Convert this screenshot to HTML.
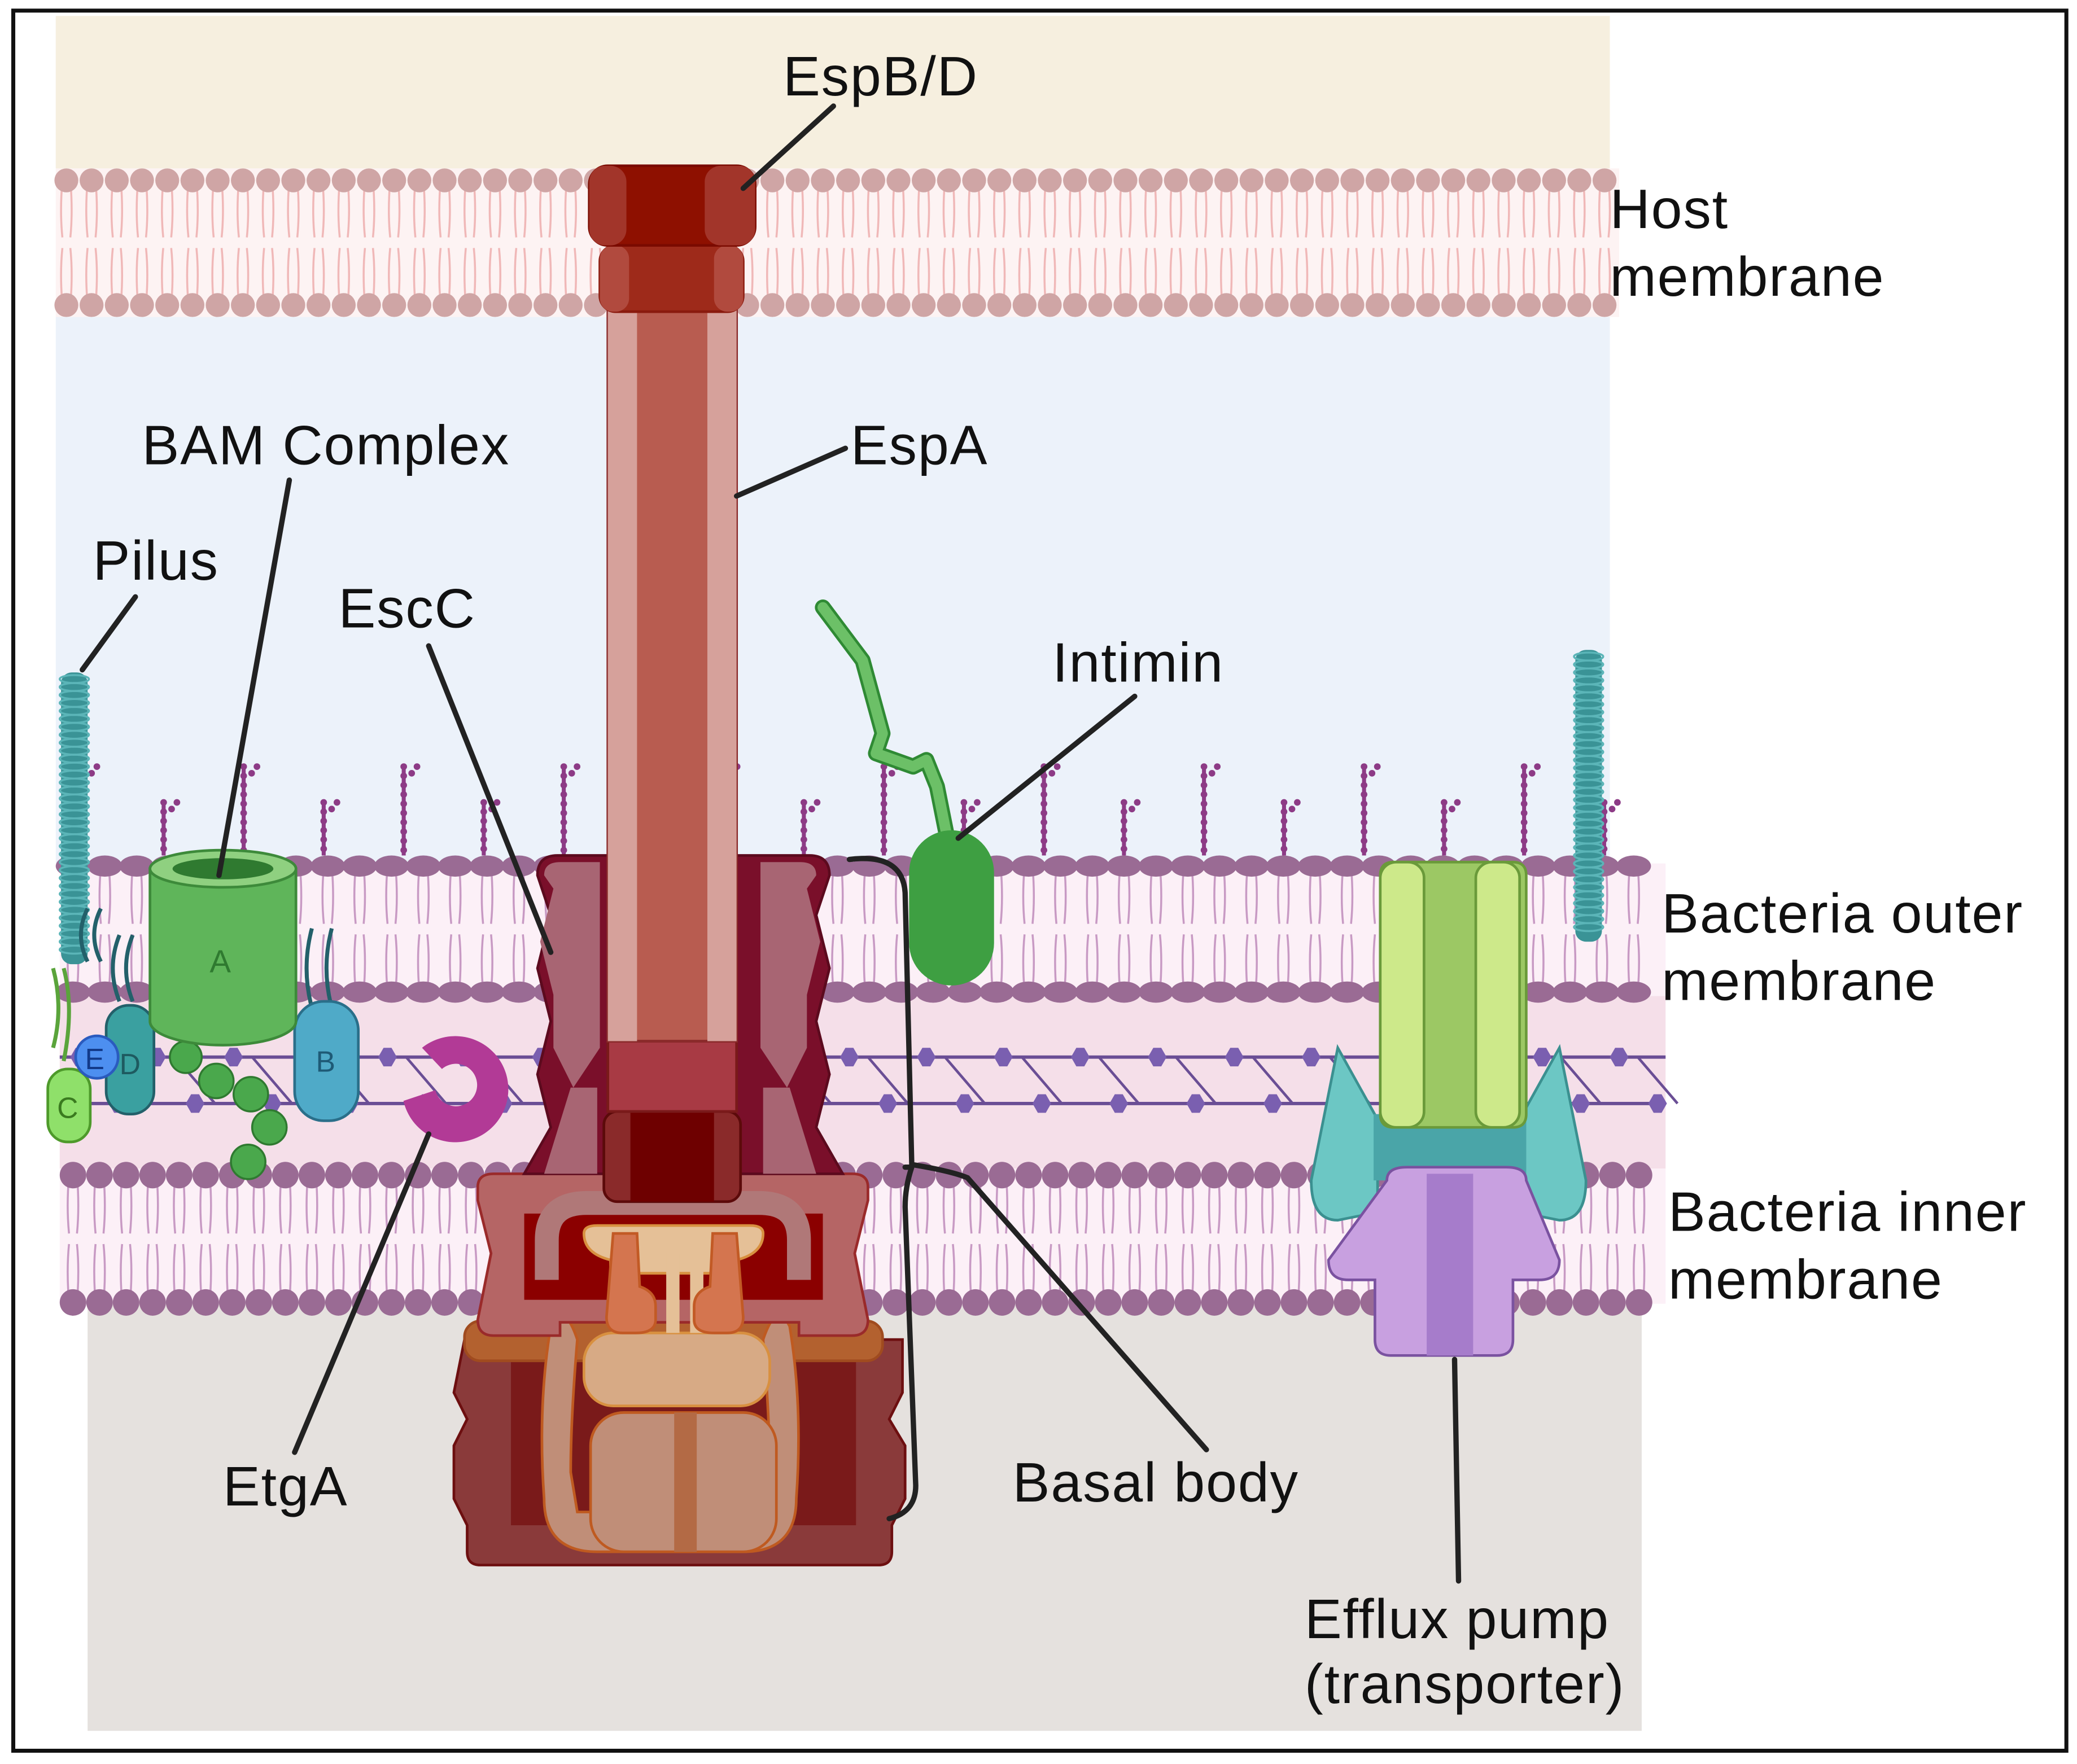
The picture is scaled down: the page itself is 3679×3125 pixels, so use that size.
<!DOCTYPE html>
<html><head><meta charset="utf-8"><style>
html,body{margin:0;padding:0;background:#fff}
svg{display:block}
text{font-family:"Liberation Sans",sans-serif;font-size:42px;letter-spacing:0.8px;fill:#111}
</style></head><body>
<svg id="s" width="3679" height="3125" viewBox="0 0 1565 1330" preserveAspectRatio="none" xmlns="http://www.w3.org/2000/svg">
<rect x="0" y="0" width="1565" height="1330" fill="#fff"/>
<rect x="42" y="12" width="1171" height="115" fill="#f6efdf"/>
<rect x="42" y="127" width="1178" height="112" fill="#fdf3f3"/>
<rect x="42" y="239" width="1171" height="412" fill="#ecf2fa"/>
<rect x="45" y="651" width="1210" height="100" fill="#fcf0f7"/>
<rect x="45" y="751" width="1210" height="130" fill="#f5dfe9"/>
<rect x="45" y="881" width="1210" height="102" fill="#fcf0f7"/>
<rect x="66" y="983" width="1171" height="322" fill="#e5e1de"/>
<g id="lip"></g>
<line x1="45" y1="797" x2="1255" y2="797" stroke="#6a4e95" stroke-width="2.5"/>
<line x1="45" y1="832" x2="1255" y2="832" stroke="#6a4e95" stroke-width="2.5"/>
<g id="pg"></g>
<g id="lps" stroke="#8d3b86" stroke-width="3" fill="#8d3b86"></g>

<rect x="46" y="507" width="20" height="220" rx="8" fill="#3a9396"/>
<g id="pil1"></g>
<rect x="1187" y="490" width="20" height="220" rx="8" fill="#3a9396"/>
<g id="pil2"></g>

<path d="M40 730 q8 30 0 60 M48 730 q8 30 0 70" stroke="#5aa43b" stroke-width="3" fill="none"/>
<path d="M66 725 q-10 -20 0 -40 M76 725 q-10-20 0-40 M90 755 q-10-25 0-50 M100 755 q-10-25 0-50 M235 760 q-8-30 0-60 M250 760 q-8-30 0-60" stroke="#23606a" stroke-width="3" fill="none"/>
<rect x="36" y="806" width="32" height="55" rx="15" fill="#8fe06a" stroke="#4e9a2b" stroke-width="2"/>
<text x="43" y="843" style="font-size:22px;fill:#3a7a1f">C</text>
<rect x="80" y="758" width="36" height="82" rx="17" fill="#3aa0a0" stroke="#23606a" stroke-width="2"/>
<text x="90" y="810" style="font-size:22px;fill:#1e5a60">D</text>
<circle cx="73" cy="797" r="16" fill="#4d8ff0" stroke="#2a5bbf" stroke-width="2"/>
<text x="64" y="806" style="font-size:22px;fill:#123a8a">E</text>
<rect x="222" y="755" width="48" height="90" rx="22" fill="#4faac8" stroke="#2a6f8a" stroke-width="2"/>
<text x="238" y="808" style="font-size:22px;fill:#1e5a76">B</text>
<g fill="#4aa84c" stroke="#2f7a30" stroke-width="1.5">
<circle cx="140" cy="797" r="12"/><circle cx="163" cy="815" r="13"/><circle cx="189" cy="825" r="13"/><circle cx="203" cy="850" r="13"/><circle cx="187" cy="876" r="13"/>
</g>
<path d="M113 655 v115 a55 18 0 0 0 110 0 v-115 z" fill="#5fb55a" stroke="#3d8a3a" stroke-width="2"/>
<ellipse cx="168" cy="655" rx="55" ry="14" fill="#8fd080" stroke="#3d8a3a" stroke-width="2"/>
<ellipse cx="168" cy="655" rx="38" ry="8" fill="#2f7a30"/>
<text x="158" y="733" style="font-size:24px;fill:#2f7a30">A</text>

<path d="M318 790 a40 40 0 1 1 -14 40 l24 -8 a16 16 0 1 0 5 -16 z" fill="#b23a96"/>

<path d="M620 458 l30 40 l15 55 l-5 15 l28 10 l10 -5 l8 20 l8 40" stroke="#2f8a34" stroke-width="12" fill="none" stroke-linejoin="round" stroke-linecap="round"/>
<path d="M620 458 l30 40 l15 55 l-5 15 l28 10 l10 -5 l8 20 l8 40" stroke="#6cc067" stroke-width="8" fill="none" stroke-linejoin="round" stroke-linecap="round"/>
<rect x="685" y="626" width="64" height="117" rx="32" fill="#3e9f42"/>

<path d="M1008 790 l-20 100 q0 30 20 30 l30 -6 l0 -70 z" fill="#6cc7c4" stroke="#3b9090" stroke-width="2"/>
<path d="M1175 790 l20 100 q0 30 -20 30 l-30 -6 l0 -70 z" fill="#6cc7c4" stroke="#3b9090" stroke-width="2"/>
<rect x="1035" y="840" width="115" height="50" fill="#4aa5a8"/>
<path d="M1040 660 q0-10 10-10 h90 q10 0 10 10 v180 q0 10-10 10 h-90 q-10 0-10-10z" fill="#9cc864" stroke="#6a9a3a" stroke-width="2"/>
<rect x="1040" y="650" width="33" height="200" rx="12" fill="#cde98a" stroke="#6a9a3a" stroke-width="2"/>
<rect x="1112" y="650" width="33" height="200" rx="12" fill="#cde98a" stroke="#6a9a3a" stroke-width="2"/>
<path d="M1045 890 q0-10 15-10 h75 q15 0 15 10 l25 60 q0 15-15 15 h-20 v45 q0 12-12 12 h-80 q-12 0-12-12 v-45 h-20 q-15 0-15-15z" fill="#c8a0e0" stroke="#7a52a0" stroke-width="2"/>
<rect x="1075" y="885" width="35" height="137" fill="#a67ccb"/>

<path d="M350 1010 h330 v40 l-10 20 l12 20 v40 l-10 20 v20 q0 10-10 10 h-300 q-10 0-10-10 v-20 l-10-20 v-40 l10-20 l-10-20 z" fill="#8a3a3a" stroke="#6d0f10" stroke-width="2"/>
<rect x="385" y="1020" width="260" height="130" fill="#7a1a1a"/>
<rect x="350" y="996" width="315" height="30" rx="12" fill="#b3612f" stroke="#a04b1f" stroke-width="2"/>
<path d="M415 1000 q10-20 20 10 q-5 60 -5 100 l5 30 h140 l5-30 q0-40 -5-100 q10-30 20-10 q10 60 5 130 q0 40-40 40 h-110 q-40 0-40-40 q-5-70 5-130z" fill="#c08e78" stroke="#bf5a20" stroke-width="2"/>
<rect x="445" y="1065" width="140" height="105" rx="25" fill="#c08e78" stroke="#bf5a20" stroke-width="2"/>
<rect x="508" y="1065" width="17" height="105" fill="#b36a45"/>

<path d="M360 895 q0-10 12-10 h270 q12 0 12 10 v10 l-10 40 l10 50 q0 12-12 12 h-40 v-10 h-180 v10 h-50 q-12 0-12-12 l10-50 l-10-40z" fill="#b56565" stroke="#9a2a2a" stroke-width="2"/>
<rect x="395" y="915" width="225" height="65" fill="#8b0000"/>
<path d="M412 965 v-30 q0-28 30-28 h130 q30 0 30 28 v30" fill="none" stroke="#b07878" stroke-width="18"/>
<path d="M440 930 q0-6 10-6 h115 q10 0 10 6 q0 15-20 20 v10 h-95 v-10 q-20-5-20-20z" fill="#e5c097" stroke="#d89040" stroke-width="2"/>
<rect x="440" y="1005" width="140" height="55" rx="22" fill="#d7aa85" stroke="#d89040" stroke-width="2"/>
<rect x="502" y="945" width="10" height="60" fill="#e5c097"/><rect x="520" y="945" width="10" height="60" fill="#e5c097"/>
<path d="M462 930 h18 l2 40 q12 4 12 15 v10 q0 10-15 10 h-10 q-12 0-12-12z" fill="#d4754f" stroke="#c25a25" stroke-width="2"/>
<path d="M555 930 h-18 l-2 40 q-12 4-12 15 v10 q0 10 15 10 h10 q12 0 12-12z" fill="#d4754f" stroke="#c25a25" stroke-width="2"/>

<path d="M405 660 q0-15 15-15 h190 q15 0 15 15 l-10 30 l10 40 l-10 40 l10 40 l-10 40 l20 35 h-240 l20-35 l-10-40 l10-40 l-10-40 l10-40z" fill="#7a0f2a" stroke="#5c0a1e" stroke-width="2"/>
<path d="M410 660 q0-10 12-10 h30 v140 l-20 30 l-15-30 v-40 l-10-40 l10-40z" fill="#a86573"/>
<path d="M615 660 q0-10-12-10 h-30 v140 l20 30 l15-30 v-40 l10-40 l-10-40z" fill="#a86573"/>
<path d="M430 820 l-20 65 h40 v-65z M595 820 l20 65 h-40 v-65z" fill="#a86573"/>
<rect x="455" y="838" width="103" height="68" rx="10" fill="#8a2a2a" stroke="#5c0a0a" stroke-width="2"/>
<rect x="475" y="838" width="63" height="68" fill="#6e0000"/>
<rect x="458" y="785" width="97" height="53" fill="#a83a44" stroke="#7a1a1a" stroke-width="2"/>

<rect x="458" y="232" width="97" height="553" fill="#b85c50" stroke="#8a2a2a" stroke-width="2"/>
<rect x="458" y="232" width="22" height="553" fill="#d6a19b"/>
<rect x="533" y="232" width="22" height="553" fill="#d6a19b"/>
<rect x="452" y="185" width="108" height="50" rx="12" fill="#9e2a1a" stroke="#8a1a0e" stroke-width="2"/>
<rect x="452" y="185" width="22" height="50" rx="10" fill="#b14a3e"/><rect x="538" y="185" width="22" height="50" rx="10" fill="#b14a3e"/>
<rect x="444" y="125" width="125" height="60" rx="14" fill="#8e1000" stroke="#7a0a00" stroke-width="2"/>
<rect x="444" y="125" width="28" height="60" rx="12" fill="#a2352a"/><rect x="531" y="125" width="38" height="60" rx="12" fill="#a2352a"/>

<g stroke="#222" stroke-width="4" fill="none" stroke-linecap="round">
<line x1="628" y1="80" x2="560" y2="142"/>
<line x1="637" y1="338" x2="555" y2="374"/>
<line x1="218" y1="362" x2="165" y2="660"/>
<line x1="102" y1="450" x2="62" y2="505"/>
<line x1="323" y1="487" x2="415" y2="718"/>
<line x1="855" y1="525" x2="722" y2="632"/>
<line x1="323" y1="855" x2="222" y2="1095"/>
<path d="M640 648 q40-5 42 25 l5 205 q30 5 42 10 l180 205"/>
<path d="M682 880 q5 0 5 0 q-5 15-5 30 l8 210 q0 20-20 25"/>
<line x1="1096" y1="1025" x2="1099" y2="1192"/>
</g>

<rect x="10" y="8" width="1547" height="1312" fill="none" stroke="#111" stroke-width="3"/>

<text x="590" y="72">EspB/D</text>
<text x="1213" y="172">Host</text>
<text x="1213" y="223">membrane</text>
<text x="107" y="350">BAM Complex</text>
<text x="70" y="437">Pilus</text>
<text x="255" y="473">EscC</text>
<text x="641" y="350">EspA</text>
<text x="793" y="514">Intimin</text>
<text x="1252" y="703">Bacteria outer</text>
<text x="1252" y="754">membrane</text>
<text x="1257" y="928">Bacteria inner</text>
<text x="1257" y="979">membrane</text>
<text x="168" y="1135">EtgA</text>
<text x="763" y="1132">Basal body</text>
<text x="983" y="1235">Efflux pump</text>
<text x="983" y="1284">(transporter)</text>
</svg>
<script>
(function(){
var NS="http://www.w3.org/2000/svg";
function el(p,t,a){var e=document.createElementNS(NS,t);for(var k in a)e.setAttribute(k,a[k]);p.appendChild(e);return e;}
var lip=document.getElementById("lip");
function bilayer(x0,x1,yT,yB,col,tail,rx,ry,step){
 for(var x=x0;x<=x1;x+=step){
  var m=(yT+yB)/2;
  el(lip,"path",{d:"M"+(x-3)+" "+yT+" q-2 "+((m-yT)/2)+" 0 "+(m-yT-4)+" M"+(x+3)+" "+yT+" q2 "+((m-yT)/2)+" 0 "+(m-yT-4)+" M"+(x-3)+" "+yB+" q-2 "+(-(yB-m)/2)+" 0 "+(-(yB-m-4))+" M"+(x+3)+" "+yB+" q2 "+(-(yB-m)/2)+" 0 "+(-(yB-m-4)),stroke:tail,"stroke-width":1.5,fill:"none"});
  el(lip,"ellipse",{cx:x,cy:yT,rx:rx,ry:ry,fill:col});
  el(lip,"ellipse",{cx:x,cy:yB,rx:rx,ry:ry,fill:col});
 }
}
bilayer(50,1212,136,230,"#cfa5a5","#f0b8b8",9,9,19);
bilayer(55,1248,653,748,"#9a6b94","#c89ac4",13,8,24);
bilayer(55,1248,886,982,"#9a6b94","#c89ac4",10,10,20);
var pg=document.getElementById("pg");
for(var x=60;x<1250;x+=58){
 el(pg,"path",{d:"M"+(x+14)+" 797 L"+(x+44)+" 832",stroke:"#6a4e95","stroke-width":2});
 el(pg,"polygon",{points:(x-7)+",797 "+(x-3)+",790 "+(x+3)+",790 "+(x+7)+",797 "+(x+3)+",804 "+(x-3)+",804",fill:"#7a5fb0"});
 el(pg,"polygon",{points:(x+22)+",832 "+(x+26)+",825 "+(x+32)+",825 "+(x+36)+",832 "+(x+32)+",839 "+(x+26)+",839",fill:"#7a5fb0"});
}
var lps=document.getElementById("lps");
var i=0;
for(var x=63;x<1230;x+=60.3,i++){
 var tp=(i%2==0)?578:605;
 el(lps,"line",{x1:x,y1:tp,x2:x,y2:645});
 for(var y=tp;y<645;y+=7) el(lps,"circle",{cx:x,cy:y,r:2.5,stroke:"none"});
 el(lps,"circle",{cx:x+6,cy:tp+5,r:2.5,stroke:"none"});el(lps,"circle",{cx:x+10,cy:tp,r:2.5,stroke:"none"});
}
function pilus(id,x,y0,y1){var g=document.getElementById(id);for(var y=y0;y<y1;y+=6)el(g,"ellipse",{cx:x,cy:y,rx:11,ry:3,fill:"none",stroke:"#5bb5b8","stroke-width":1.5});}
pilus("pil1",56,512,722);pilus("pil2",1197,495,705);
})();
</script>
</body></html>
